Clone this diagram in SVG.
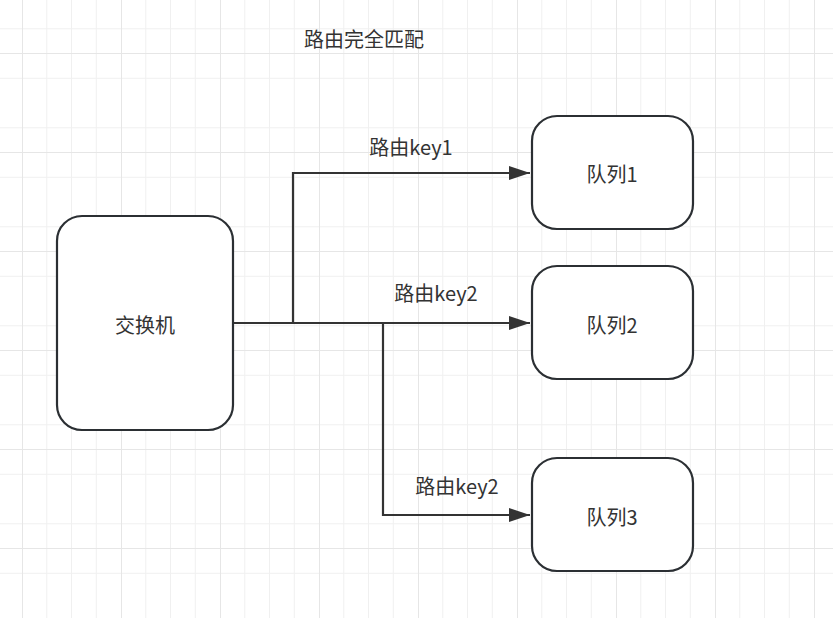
<svg xmlns="http://www.w3.org/2000/svg" width="833" height="618" viewBox="0 0 833 618">
  <defs>
    <pattern id="grid" x="22" y="4" width="99" height="99" patternUnits="userSpaceOnUse">
      <path d="M24.75 0V99M49.5 0V99M74.25 0V99M0 24.75H99M0 74.25H99" stroke="#f0f0f0" stroke-width="1" fill="none"/>
      <path d="M0 49.5H99" stroke="#e6e6e6" stroke-width="1" fill="none"/>
      <path d="M0.5 0V99" stroke="#e6e6e6" stroke-width="1" fill="none"/>
    </pattern>
    <marker id="arrow" markerWidth="22" markerHeight="14" refX="21" refY="7" orient="auto" markerUnits="userSpaceOnUse">
      <path d="M0 0 L21 7 L0 14 Z" fill="#333333"/>
    </marker>
    <style>
      .node rect { fill: #ffffff; stroke: #2b2f33; stroke-width: 2.2; }
      .label { font-family: "Noto Sans CJK SC", "Noto Sans", sans-serif; font-size: 20px; fill: #333333; text-anchor: middle; dominant-baseline: central; }
      .edge { fill: none; stroke: #333333; stroke-width: 2.2; }
    </style>
  </defs>
  <rect width="833" height="618" fill="#ffffff"/>
  <rect width="833" height="618" fill="url(#grid)"/>

  <text class="label" x="364" y="38">路由完全匹配</text>

  <g id="connectors">
    <path class="edge" d="M234 323 H293 V173 H530" marker-end="url(#arrow)"/>
    <path class="edge" d="M234 323 H530" marker-end="url(#arrow)"/>
    <path class="edge" d="M383 323 V515 H530" marker-end="url(#arrow)"/>
    <text class="label" x="411" y="146">路由key1</text>
    <text class="label" x="436" y="292">路由key2</text>
    <text class="label" x="457" y="485">路由key2</text>
  </g>

  <g id="exchange" class="node">
    <rect x="57" y="216" width="176" height="214" rx="25" ry="25"/>
    <text class="label" x="145" y="324">交换机</text>
  </g>
  <g id="queue1" class="node">
    <rect x="532" y="116" width="161" height="113" rx="25" ry="25"/>
    <text class="label" x="612" y="173">队列1</text>
  </g>
  <g id="queue2" class="node">
    <rect x="532" y="266" width="161" height="113" rx="25" ry="25"/>
    <text class="label" x="612" y="324">队列2</text>
  </g>
  <g id="queue3" class="node">
    <rect x="532" y="458" width="161" height="113" rx="25" ry="25"/>
    <text class="label" x="612" y="516">队列3</text>
  </g>
</svg>
